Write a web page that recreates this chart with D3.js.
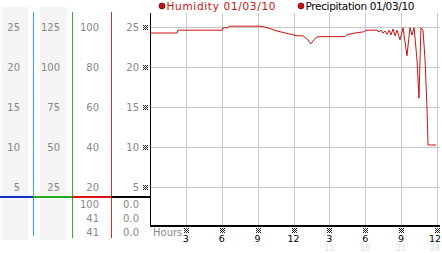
<!DOCTYPE html>
<html>
<head>
<meta charset="utf-8">
<script src="https://cdn.jsdelivr.net/npm/d3@7"></script>
<style>
  body { margin: 0; background: #fff; }
  text { font-family: "DejaVu Sans", Verdana, sans-serif; }
</style>
</head>
<body>
<script>
// humidity trace, hours 0..24
var hours = [0, 2.26, 2.34, 6.02, 6.10, 6.52, 6.61, 9.20, 9.62, 10.62, 12.29, 12.79, 13.13, 13.46, 13.71, 13.96, 14.22,
  16.31, 16.47, 17.14, 17.89, 18.06, 18.98, 19.15, 19.32, 19.48, 19.65, 19.82, 19.99, 20.15, 20.32, 20.49, 20.66,
  20.91, 21.16, 21.49, 21.74, 21.91, 22.08, 22.33, 22.49, 22.66, 22.83, 23.0, 23.16, 23.25, 23.92];
var humidity = [24.25, 24.25, 24.6, 24.6, 24.9, 24.9, 25.1, 25.1, 25.0, 24.5, 23.9, 23.9, 23.5, 22.9, 23.4, 23.75, 23.8,
  23.8, 24.05, 24.25, 24.4, 24.6, 24.6, 24.4, 24.6, 24.25, 24.5, 24.1, 24.6, 24.0, 24.75, 23.9, 24.6,
  23.4, 24.9, 21.4, 24.9, 24.0, 24.9, 20.9, 16.1, 24.9, 24.6, 20.9, 15.0, 10.25, 10.25];

var col1Ticks = [25, 20, 15, 10, 5];
var col2Ticks = [125, 100, 75, 50, 25];
var col3Ticks = [100, 80, 60, 40, 20];
var col4Ticks = [25, 20, 15, 10, 5];
var col3Bottom = ["100", "41", "41"];
var col4Bottom = ["0.0", "0.0", "0.0"];
var xTicks = [3, 6, 9, 12, 15, 18, 21, 24];
var xTickLabels = ["3", "6", "9", "12", "3", "6", "9", "12"];
var xTickLabels24 = ["15", "18", "21", "24"];
var legendNames = ["Humidity 01/03/10", "Precipitation 01/03/10"];

var W = 442, H = 253;
var svg = d3.select("body").append("svg").attr("width", W).attr("height", H);

var x = d3.scaleLinear().domain([0, 24]).range([150, 437]);
var y = d3.scaleLinear().domain([0, 25]).range([227, 27]);
var y2 = d3.scaleLinear().domain([0, 125]).range([227, 27]);
var y3 = d3.scaleLinear().domain([0, 100]).range([227, 27]);

// gray column backgrounds
svg.append("rect").attr("x", 2).attr("y", 7).attr("width", 26).attr("height", 233).attr("fill", "#f5f5f5");
svg.append("rect").attr("x", 40).attr("y", 7).attr("width", 27).attr("height", 233).attr("fill", "#f5f5f5");

// grid
svg.selectAll(".hgrid").data(col4Ticks).enter().append("line")
  .attr("x1", 150).attr("x2", 440)
  .attr("y1", d => Math.round(y(d)) + 0.5).attr("y2", d => Math.round(y(d)) + 0.5)
  .attr("stroke", "#c8c8c8");
svg.selectAll(".vgrid").data(xTicks).enter().append("line")
  .attr("x1", d => Math.round(x(d)) + 0.5).attr("x2", d => Math.round(x(d)) + 0.5)
  .attr("y1", 13).attr("y2", 226)
  .attr("stroke", "#c8c8c8");

// left column rules
var rules = [{ x: 33, c: "#3aa6d0", y2: 236 }, { x: 72, c: "#34b034", y2: 238 }, { x: 111, c: "#c83030", y2: 238 }];
svg.selectAll(".rule").data(rules).enter().append("line")
  .attr("x1", d => d.x + 0.5).attr("x2", d => d.x + 0.5).attr("y1", 12).attr("y2", d => d.y2)
  .attr("stroke", d => d.c);

// horizontal base line across columns
var segs = [[0, 33, "#1133cc"], [33, 72, "#22aa22"], [72, 111, "#dd1111"], [111, 150, "#000"]];
svg.selectAll(".seg").data(segs).enter().append("rect")
  .attr("x", d => d[0]).attr("y", 196).attr("width", d => d[1] - d[0] + 1).attr("height", 2)
  .attr("fill", d => d[2]);

// column labels
function colLabels(ticks, scale, right) {
  svg.append("g").selectAll("text").data(ticks).enter().append("text")
    .attr("x", right).attr("y", d => scale(d)).attr("dy", "0.35em")
    .attr("text-anchor", "end").attr("font-size", 10).attr("fill", "#888")
    .text(d => d);
}
colLabels(col1Ticks, y, 20);
colLabels(col2Ticks, y2, 60);
colLabels(col3Ticks, y3, 99);
colLabels(col4Ticks, y, 139);

var bottomY = [204, 218, 232];
svg.append("g").selectAll("text").data(col3Bottom).enter().append("text")
  .attr("x", 99).attr("y", (d, i) => bottomY[i]).attr("dy", "0.35em")
  .attr("text-anchor", "end").attr("font-size", 10).attr("fill", "#888").text(d => d);
svg.append("g").selectAll("text").data(col4Bottom).enter().append("text")
  .attr("x", 139).attr("y", (d, i) => bottomY[i]).attr("dy", "0.35em")
  .attr("text-anchor", "end").attr("font-size", 10).attr("fill", "#888").text(d => d);

// tiny checker marker
var checker = [];
for (var r = 0; r < 5; r++) for (var c = 0; c < 5; c++) if ((r + c) % 2 === 0) checker.push([c, r]);
function marker(g, cx, cy) {
  g.append("g").attr("transform", `translate(${Math.round(cx) - 2}, ${Math.round(cy) - 2})`)
    .selectAll("rect").data(checker).enter().append("rect")
    .attr("x", d => d[0]).attr("y", d => d[1]).attr("width", 1).attr("height", 1).attr("fill", "#222");
}
var marks = svg.append("g");
col4Ticks.forEach(d => marker(marks, 145, y(d)));
xTicks.forEach(d => marker(marks, x(d), 230));

// plot frame
svg.append("line").attr("x1", 150.5).attr("x2", 150.5).attr("y1", 13).attr("y2", 227).attr("stroke", "#000");
svg.append("rect").attr("x", 150).attr("y", 225).attr("width", 290).attr("height", 2).attr("fill", "#000");

// humidity line
var line = d3.line().x(d => x(d[0])).y(d => y(d[1]));
svg.append("path").datum(hours.map((h, i) => [h, humidity[i]]))
  .attr("d", line).attr("fill", "none").attr("stroke", "#cc1111").attr("stroke-width", 1);

// x axis labels
svg.append("text").attr("x", 153).attr("y", 232).attr("dy", "0.35em")
  .attr("font-size", 10).attr("fill", "#888").text("Hours");
svg.append("g").selectAll("text").data(xTicks).enter().append("text")
  .attr("x", d => Math.min(x(d), 435)).attr("y", 238.5).attr("dy", "0.35em")
  .attr("text-anchor", "middle").attr("font-size", 9.5).attr("fill", "#000")
  .text((d, i) => xTickLabels[i]);
svg.append("g").selectAll("text").data(xTicks.slice(4)).enter().append("text")
  .attr("x", d => Math.min(x(d), 435)).attr("y", 248).attr("dy", "0.35em")
  .attr("text-anchor", "middle").attr("font-size", 8).attr("fill", "#e0e0e0")
  .text((d, i) => xTickLabels24[i]);

// legend
var legendX = [162, 301];
var legendColor = ["#cc1111", "#000"];
var lg = svg.append("g").selectAll("g").data(legendNames).enter().append("g");
lg.append("circle").attr("cx", (d, i) => legendX[i]).attr("cy", 6).attr("r", 3)
  .attr("fill", "#c41010").attr("stroke", "#600").attr("stroke-width", 0.7);
lg.append("text").attr("x", (d, i) => legendX[i] + 4.5).attr("y", 6).attr("dy", "0.35em")
  .attr("font-size", 10.5).attr("fill", (d, i) => legendColor[i])
  .attr("textLength", 109).attr("lengthAdjust", "spacing").text(d => d);
</script>
</body>
</html>
